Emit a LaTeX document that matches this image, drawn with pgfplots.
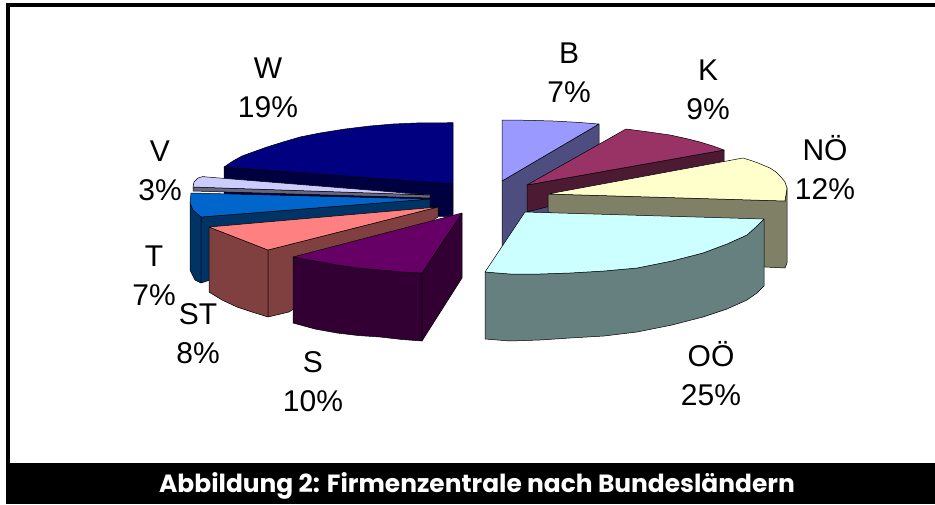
\documentclass[border=0pt]{standalone}
\usepackage{pgfplots}
\pgfplotsset{compat=1.18}
\usepackage{fontspec}
\setmainfont{Liberation Sans}
\newfontfamily\titlefont{Poppins}
\definecolor{cB}{HTML}{9999FF}\definecolor{dB}{HTML}{4D4D80}
\definecolor{cK}{HTML}{993366}\definecolor{dK}{HTML}{4D1A33}
\definecolor{cN}{HTML}{FFFFCC}\definecolor{dN}{HTML}{808066}
\definecolor{cO}{HTML}{CCFFFF}\definecolor{dO}{HTML}{668080}
\definecolor{cS}{HTML}{660066}\definecolor{dS}{HTML}{330033}
\definecolor{cR}{HTML}{FF8080}\definecolor{dR}{HTML}{804040}
\definecolor{cT}{HTML}{0066CC}\definecolor{dT}{HTML}{003366}
\definecolor{cV}{HTML}{CCCCFF}\definecolor{dV}{HTML}{666680}
\definecolor{cW}{HTML}{000080}\definecolor{dW}{HTML}{000040}
\tikzset{lab/.style={font=\fontsize{30}{39}\selectfont,align=center,text=black,inner sep=0pt}}
\begin{document}
\begin{tikzpicture}[x=1pt,y=1pt]
\begin{axis}[
  at={(0,0)},anchor=south west,
  scale only axis,width=935pt,height=504pt,
  xmin=0,xmax=935,ymin=0,ymax=504,y dir=reverse,
  hide axis,clip=false,
  every axis plot/.append style={line width=0.5pt,draw=black,line join=round},
]
% frame
\addplot[fill=white,draw=none] coordinates {(0,0)(935,0)(935,504)(0,504)} -- cycle;
\addplot[fill=black,draw=none] coordinates {(6,3)(935,3)(935,504)(6,504)} -- cycle;
\addplot[fill=white,draw=none] coordinates {(10,7)(935,7)(935,463)(10,463)} -- cycle;
% W
\addplot[fill=dW] coordinates {(224,167)(453,184)(453,217)(224,205)} -- cycle;
\addplot[fill=cW] coordinates {(224,167)(233,161)(242,156)(253,152)(267,147)(283,142)(300,137)(320,133)(345,129)(370,126)(393,124)(416,123)(453,122.7)(453,184)} -- cycle;
% V
\addplot[fill=dV] coordinates {(193,187)(430,195)(430,198)(193,191)} -- cycle;
\addplot[fill=cV] coordinates {(193,187)(194,182)(198,178)(203,176.5)(207,177)(430,195)} -- cycle;
% T
\addplot[fill=dT] coordinates {(190,203)(193,210)(201,217)(201,283)(195,280)(190,270)} -- cycle;
\addplot[fill=dT] coordinates {(201,217)(430,199)(430,208)(201,283)} -- cycle;
\addplot[fill=cT] coordinates {(191,193)(430,199)(201,217)(193,210)(190,203)} -- cycle;
% ST
\addplot[fill=dR] coordinates {(209,227)(268,250)(268,317)(252,312)(237,307)(222,300)(209,292)} -- cycle;
\addplot[fill=dR] coordinates {(268,250)(438,207)(438,217)(289,312)(268,317)} -- cycle;
\addplot[fill=cR] coordinates {(209,227)(438,207)(268,250)} -- cycle;
% S
\addplot[fill=dS] coordinates {(293,257)(315,261)(337,265)(358,268)(380,270)(402,272)(422,273)(422,341)(402,339.5)(380,337)(358,335.5)(337,333)(315,329)(293,323)} -- cycle;
\addplot[fill=dS] coordinates {(422,273)(462,213)(462,278)(422,341)} -- cycle;
\addplot[fill=cS] coordinates {(293,257)(462,213)(422,273)(402,272)(380,270)(358,268)(337,265)(315,261)} -- cycle;
% B
\addplot[fill=dB] coordinates {(502,181)(599,124)(599,190)(502,247)} -- cycle;
\addplot[fill=cB] coordinates {(502,120)(528,120.3)(553,121)(577,122.3)(599,124)(502,181)} -- cycle;
% K
\addplot[fill=dK] coordinates {(527,185)(724,150)(724,162)(527,212)} -- cycle;
\addplot[fill=cK] coordinates {(527,185)(626,129)(649,132)(670,135)(686,138.5)(700,142)(713,146)(724,150)} -- cycle;
% NOE
\addplot[fill=dN] coordinates {(548,194)(785,201)(787,188)(787,263)(785,268)(765,267)(548,212)} -- cycle;
\addplot[fill=cN] coordinates {(548,194)(743,158)(751,160.5)(758,163)(770,168)(776,172)(781,177)(785,182)(787,188)(785,201)} -- cycle;
% OOE
\addplot[fill=dO] coordinates {(485,272)(510,274)(540,274)(570,273)(604,271)(637,268)(672,261)(703,253)(727,244)(747,235)(757,226)(764,219)(764,286)(757,293)(747,300)(727,309)(703,317)(672,325)(637,332)(604,336)(570,338)(540,340)(510,341)(485,339)} -- cycle;
\addplot[fill=cO] coordinates {(525,212)(764,219)(757,226)(747,235)(727,244)(703,253)(672,261)(637,268)(604,271)(570,273)(540,274)(510,274)(485,272)} -- cycle;
% labels
\node[lab] at (axis cs:569,73) {B\\7\%};
\node[lab] at (axis cs:708,90) {K\\9\%};
\node[lab] at (axis cs:825,168) {NÖ\\12\%};
\node[lab] at (axis cs:711,374) {OÖ\\25\%};
\node[lab] at (axis cs:313,382) {S\\10\%};
\node[lab] at (axis cs:198,334) {ST\\8\%};
\node[lab] at (axis cs:154,276) {T\\7\%};
\node[lab] at (axis cs:160,171) {V\\3\%};
\node[lab] at (axis cs:268,88) {W\\19\%};
\node[font=\titlefont\bfseries\fontsize{24.9}{28}\selectfont,text=white,inner sep=0pt] at (axis cs:477,486) {Abbildung 2: Firmenzentrale nach Bundesländern};
\end{axis}
\end{tikzpicture}
\end{document}
